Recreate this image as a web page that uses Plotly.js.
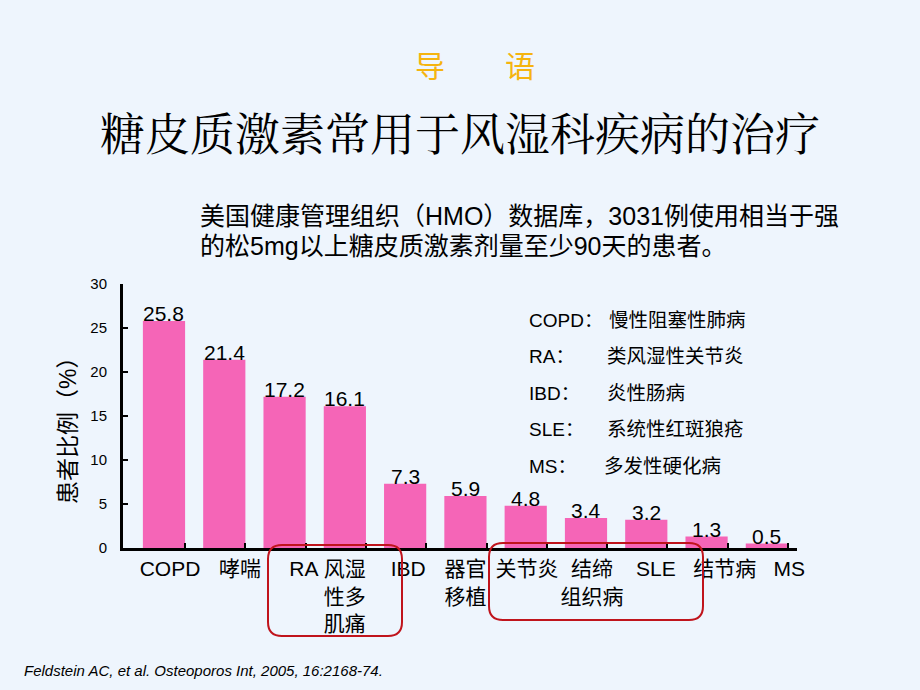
<!DOCTYPE html>
<html><head><meta charset="utf-8">
<script src="https://cdn.plot.ly/plotly-3.0.1.min.js"></script>
<style>html,body{margin:0;padding:0;background:#EEF5FD;}#chart{width:920px;height:690px;}</style>
</head><body><div id="chart"></div>
<script>
var categories = ["COPD","哮喘","RA","风湿<br>性多<br>肌痛","IBD","器官<br>移植","关节炎","结缔<br>组织病","SLE","结节病","MS"];
var values = [25.8, 21.4, 17.2, 16.1, 7.3, 5.9, 4.8, 3.4, 3.2, 1.3, 0.5];
var yTicks = [0, 5, 10, 15, 20, 25, 30];
var legendAbbr = ["COPD：","RA：","IBD：","SLE：","MS："];
var legendFull = ["慢性阻塞性肺病","类风湿性关节炎","炎性肠病","系统性红斑狼疮","多发性硬化病"];

var FONT = "Liberation Sans, Arial, Noto Sans CJK SC, sans-serif";
var L = 123, R = 797, T = 284, B = 548;
function px(x){ return (x - L) / (R - L); }
function py(y){ return (B - y) / (B - T); }
function roundRect(x0, y0, x1, y1, r){
  var a = px(x0), b = px(x1), c = py(y0), d = py(y1);
  var rx = r / (R - L), ry = r / (B - T);
  return "M " + (a + rx) + " " + c + " L " + (b - rx) + " " + c +
    " Q " + b + " " + c + " " + b + " " + (c - ry) +
    " L " + b + " " + (d + ry) + " Q " + b + " " + d + " " + (b - rx) + " " + d +
    " L " + (a + rx) + " " + d + " Q " + a + " " + d + " " + a + " " + (d + ry) +
    " L " + a + " " + (c - ry) + " Q " + a + " " + c + " " + (a + rx) + " " + c + " Z";
}

var idx = categories.map(function(_, i){ return i; });
var tickMarks = categories.map(function(_, i){ return i + 0.35; });
// small horizontal offsets of each category label, as placed in the original slide
var labelShift = [0.1, 0.26, 0.32, 0.0, 0.05, 0.0, 0.02, 0.1, 0.16, 0.3, 0.37];
var labelPos = idx.map(function(i){ return i + labelShift[i]; });

var trace = {
  type: "bar", x: idx, y: values,
  marker: {color: "#F565B7"}, width: 0.7,
  hoverinfo: "skip"
};
var dummy = {type: "scatter", x: [0], y: [0], xaxis: "x2", mode: "markers", marker: {opacity: 0}, hoverinfo: "skip", showlegend: false};

var annotations = [
  {text: "导　　语", x: px(475), xref: "paper", y: py(64), yref: "paper", showarrow: false, xanchor: "center", yanchor: "middle", font: {family: "Noto Sans CJK SC", size: 30, color: "#F5B40F"}},
  {text: "糖皮质激素常用于风湿科疾病的治疗", x: px(460), xref: "paper", y: py(131), yref: "paper", showarrow: false, xanchor: "center", yanchor: "middle", font: {family: "Noto Serif CJK SC, Noto Sans CJK SC", size: 45, color: "#000"}},
  {text: "美国健康管理组织（HMO）数据库，3031例使用相当于强", x: px(198), xref: "paper", y: py(216), yref: "paper", showarrow: false, xanchor: "left", yanchor: "middle", font: {family: FONT, size: 25, color: "#000"}},
  {text: "的松5mg以上糖皮质激素剂量至少90天的患者。", x: px(198), xref: "paper", y: py(246), yref: "paper", showarrow: false, xanchor: "left", yanchor: "middle", font: {family: FONT, size: 25, color: "#000"}},
  {text: "<i>Feldstein AC, et al. Osteoporos Int, 2005, 16:2168-74.</i>", x: px(22), xref: "paper", y: py(670), yref: "paper", showarrow: false, xanchor: "left", yanchor: "middle", font: {family: FONT, size: 15, color: "#000"}},
  {text: "患者比例（%）", x: px(68), xref: "paper", y: py(425), yref: "paper", showarrow: false, textangle: -90, xanchor: "center", yanchor: "middle", font: {family: FONT, size: 23, color: "#000"}}
];
values.forEach(function(v, i){
  annotations.push({text: v.toFixed(1), x: i, y: v, xref: "x", yref: "y", showarrow: false, xanchor: "center", yanchor: "bottom", yshift: -6, font: {family: FONT, size: 21, color: "#000"}});
});
var legY = [320, 356, 393, 429, 466];
var legX2 = [607, 605, 605, 605, 602];
for (var i = 0; i < legendAbbr.length; i++) {
  annotations.push({text: legendAbbr[i], x: px(527), xref: "paper", y: py(legY[i]), yref: "paper", showarrow: false, xanchor: "left", yanchor: "middle", font: {family: FONT, size: 19, color: "#000"}});
  annotations.push({text: legendFull[i], x: px(legX2[i]), xref: "paper", y: py(legY[i]), yref: "paper", showarrow: false, xanchor: "left", yanchor: "middle", font: {family: FONT, size: 19.5, color: "#000"}});
}

var layout = {
  width: 920, height: 690,
  paper_bgcolor: "#EEF5FD", plot_bgcolor: "rgba(0,0,0,0)",
  margin: {l: L, r: 920 - R, t: T, b: 690 - B},
  showlegend: false, bargap: 0.3,
  font: {family: FONT},
  xaxis: {range: [-0.68, 10.5], tickvals: labelPos, ticktext: categories, ticks: "", tickangle: 0, showgrid: false, zeroline: false,
    showline: true, linecolor: "#000", linewidth: 3, tickfont: {family: FONT, size: 21, color: "#000"}, fixedrange: true},
  xaxis2: {overlaying: "x", range: [-0.68, 10.5], tickvals: tickMarks, showticklabels: false, ticks: "inside", ticklen: 5, tickwidth: 2, tickcolor: "#000", showgrid: false, zeroline: false, showline: false, side: "bottom", anchor: "y"},
  yaxis: {range: [0, 30], tickvals: yTicks, ticks: "inside", ticklen: 5, tickwidth: 2, tickcolor: "#000", showgrid: false, zeroline: false,
    showline: true, linecolor: "#000", linewidth: 3, tickfont: {family: FONT, size: 15, color: "#000"}, ticklabelstandoff: 10, fixedrange: true},
  annotations: annotations,
  shapes: [
    {type: "path", xref: "paper", yref: "paper", path: roundRect(268, 545, 402, 636, 14), line: {color: "#C0141C", width: 2}},
    {type: "path", xref: "paper", yref: "paper", path: roundRect(489, 543, 703, 620, 14), line: {color: "#C0141C", width: 2}}
  ]
};
Plotly.newPlot("chart", [trace, dummy], layout, {displayModeBar: false, staticPlot: true});
</script></body></html>
